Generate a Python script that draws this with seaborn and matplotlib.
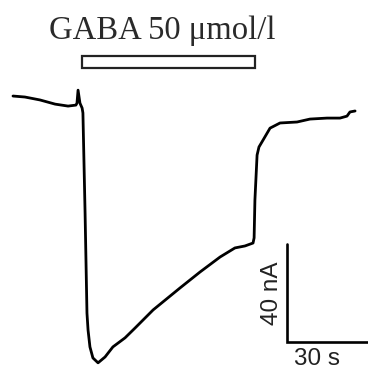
import numpy as np
import pandas as pd
import matplotlib
matplotlib.use("Agg")
import matplotlib.pyplot as plt
import seaborn as sns
from matplotlib.patches import Rectangle

# trace: time (s) and current (nA, baseline = 0)
time_s = [0.0, 4.4, 10.0, 15.6, 20.4, 23.3, 23.7, 24.1, 24.8, 25.6, 25.9,
          26.7, 27.4, 27.8, 28.5, 29.6, 31.5, 34.1, 37.0, 41.5, 45.2, 51.9,
          61.9, 69.3, 76.7, 82.2, 85.9, 88.9, 89.3, 89.6, 90.4, 91.1, 92.6,
          95.2, 98.9, 105.2, 110.0, 116.3, 121.1, 123.7, 124.8, 126.7]
current_na = [0.0, -0.4, -1.6, -3.3, -4.1, -3.7, -2.9, 2.4, -2.9, -4.9, -6.9,
              -47.8, -88.6, -95.5, -102.4, -106.9, -108.9, -106.5, -102.4,
              -98.7, -94.7, -87.3, -78.3, -71.8, -65.7, -62.0, -61.2, -60.0,
              -57.9, -42.4, -24.1, -20.8, -18.0, -13.1, -11.0, -10.6, -9.4,
              -9.0, -9.0, -8.2, -6.5, -6.1]

gaba_on, gaba_off = 25.6, 89.6          # application window (s)
gaba_label = "GABA 50 μmol/l"
bar_t, bar_i = 30, 40                   # scale bar: 30 s, 40 nA
bar_t_label, bar_i_label = "30 s", "40 nA"

df = pd.DataFrame({"t": time_s, "i": current_na})

sns.set_style("white")
fig = plt.figure(figsize=(3.68, 3.67), dpi=100)
ax = fig.add_axes([0, 0, 1, 1])

sns.lineplot(data=df, x="t", y="i", sort=False, estimator=None,
             color="black", linewidth=2.0, ax=ax)

# GABA application bar
ax.add_patch(Rectangle((gaba_on, 11.4), gaba_off - gaba_on, 4.9,
                       facecolor="white", edgecolor="#222222", linewidth=1.6))
ax.text((gaba_on + gaba_off) / 2 - 2.3, 23.3, gaba_label, ha="center",
        va="baseline", fontsize=23.5, family="Liberation Serif", color="#2a2a2a")

# scale bars
x0, y0 = 101.5, -100.4
ax.plot([x0, x0, x0 + bar_t], [y0 + bar_i, y0, y0], color="black",
        linewidth=1.9, solid_joinstyle="miter", clip_on=False)
ax.text(x0 - 5.6, y0 + bar_i / 2, bar_i_label, rotation=90, ha="center",
        va="center", fontsize=17.5, family="Liberation Sans", color="#222222")
ax.text(x0 + bar_t / 2 - 4, y0 - 2.4, bar_t_label, ha="center", va="top",
        fontsize=17.5, family="Liberation Sans", color="#222222")

ax.set_xlim(-4.81, 131.48)
ax.set_ylim(-110.6, 39.2)
ax.axis("off")

fig.savefig("out.png", dpi=100)
